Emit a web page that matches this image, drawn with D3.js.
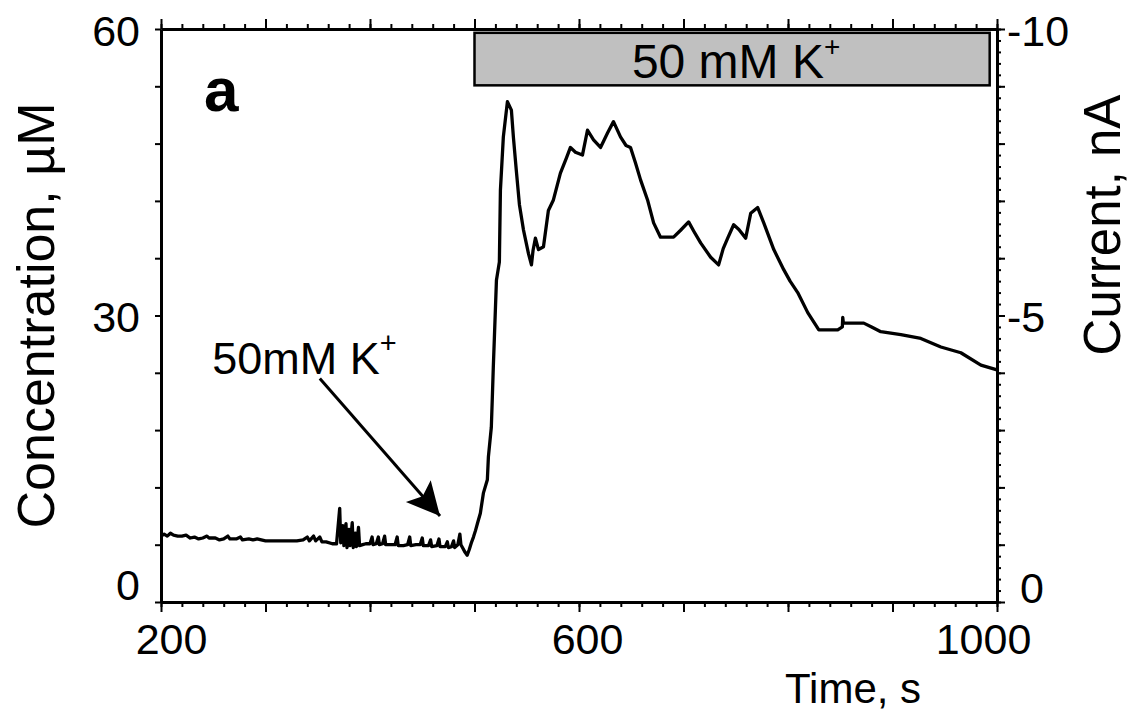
<!DOCTYPE html>
<html>
<head>
<meta charset="utf-8">
<script src="https://cdn.jsdelivr.net/npm/d3@7"></script>
<style>
  html, body { margin: 0; padding: 0; background: #fff; }
  svg { display: block; font-family: "Liberation Sans", Arial, Helvetica, sans-serif; }
</style>
</head>
<body>
<svg id="chart" width="1130" height="715"></svg>
<script>
// ---- Axis definitions ----
const timeDomain = [200, 1000];
const timeMinorTicks = d3.range(200, 1001, 20);
const timeMajorTicks = d3.range(200, 1001, 100);
const timeTickLabels = [200, 600, 1000];

const concDomain = [0, 60];
const concTicks = d3.range(0, 61, 6);
const concTickLabels = [0, 30, 60];

const currentDomain = [0, -10];
const currentMinorTicks = d3.range(0, 51).map(i => -i / 5);
const currentMajorTicks = d3.range(0, 11).map(i => -i);
const currentTickLabels = [-10, -5, 0];

// ---- Recorded trace: time (s) and concentration (µM) ----
const traceTime = [
  200, 203, 206, 209, 212, 216, 220, 224, 228, 232, 236, 240, 244, 246, 252, 256, 260, 264, 266, 272,
  276, 278, 284, 288, 292, 296, 300, 306, 312, 318, 324, 330, 336, 340, 342, 346, 348, 352, 354, 358,
  364, 368, 371, 372, 374, 375, 377, 378, 380, 381, 383, 384, 386, 387, 389, 390, 393, 396, 400, 402,
  403, 406, 408, 409, 412, 414, 415, 420, 424, 426, 427, 432, 436, 438, 439, 444, 448, 450, 451, 456,
  458, 459, 464, 466, 467, 472, 474, 475, 478, 480, 481, 484, 486, 487, 489, 491, 493, 495, 497, 499,
  501, 503, 505.6, 508.5, 512.3, 513.3, 516.1, 517, 518, 519, 521, 523.8, 524.8, 527.6, 531.5, 535.3, 537.2, 540, 543, 546.8,
  551.6, 554.5, 556, 558.3, 561.2, 566, 570.7, 575.5, 582.2, 588, 591.8, 596.6, 603.3, 608.1, 613.9, 620.6, 627.3, 633, 639.7, 645,
  649.3, 654, 658.9, 665.6, 671.4, 678, 690.5, 697, 704.9, 710, 716.4, 726, 733.6, 738, 742.3, 748, 753, 759.5, 764.3, 771,
  776.8, 786.4, 795.9, 802, 809.3, 818.9, 829.5, 847.6, 852, 852.4, 853, 872.5, 880, 888.8, 908, 927.1, 946.3, 965.4, 984.6, 1000
];
const traceConc = [
  6.9, 7.1, 6.9, 7.2, 7.0, 6.9, 6.9, 7.0, 6.7, 6.8, 6.6, 6.7, 6.9, 6.7, 6.7, 6.5, 6.6, 6.9, 6.6, 6.6,
  6.8, 6.5, 6.6, 6.5, 6.6, 6.5, 6.4, 6.4, 6.4, 6.4, 6.4, 6.4, 6.5, 6.8, 6.4, 6.9, 6.4, 6.8, 6.3, 6.3,
  6.1, 6.1, 9.8, 6.2, 8.0, 5.9, 8.2, 5.7, 7.6, 5.9, 8.3, 5.7, 7.2, 5.8, 7.8, 5.9, 6.0, 6.1, 6.1, 6.8,
  6.0, 6.1, 6.8, 6.0, 6.1, 6.9, 6.0, 6.0, 6.0, 6.8, 5.9, 5.9, 6.0, 6.8, 5.9, 6.0, 6.0, 6.7, 5.9, 5.9,
  6.5, 5.8, 5.9, 6.6, 5.8, 5.8, 6.3, 5.7, 5.8, 6.4, 5.7, 6.0, 7.1, 6.0, 5.6, 5.2, 4.9, 5.5, 6.2, 6.8,
  7.5, 8.3, 9.3, 11.4, 12.8, 15.2, 18.3, 21.2, 24.6, 27.6, 33.7, 35.6, 43.1, 48.7, 52.4, 51.5, 48.7, 45.2, 41.6, 39.0,
  36.5, 35.3, 36.8, 38.1, 36.9, 37.2, 41.0, 42.1, 44.9, 46.5, 47.6, 47.1, 46.8, 49.4, 48.4, 47.6, 49.1, 50.3, 48.7, 47.8,
  47.6, 46.0, 44.2, 42.1, 39.7, 38.2, 38.2, 38.9, 39.8, 38.8, 37.6, 36.1, 35.3, 37.0, 38.1, 39.5, 39.0, 38.1, 40.7, 41.3,
  39.7, 36.9, 34.8, 33.6, 32.4, 30.3, 28.5, 28.5, 28.8, 29.8, 29.2, 29.2, 28.8, 28.3, 28.0, 27.6, 26.7, 26.1, 24.8, 24.3
];

// ---- Stimulus period (s) and the band it occupies (µM) ----
const stimWindow = [500, 993];
const stimBand = [54.1, 59.6];
const stimLabel = "50 mM K";

// ---- Application marker: label and arrow (s, µM) ----
const markerLabel = "50mM K";
const markerLabelAt = [249, 23.9];
const markerArrow = [[352, 23.4], [467, 9.0]];

const panelLetter = "a";

// ---- Layout ----
const svg = d3.select("#chart");
const plot = { left: 161, right: 997, top: 29, bottom: 602 };

const x = d3.scaleLinear().domain(timeDomain).range([plot.left, plot.right]);
const y = d3.scaleLinear().domain(concDomain).range([plot.bottom, plot.top]);
const yR = d3.scaleLinear().domain(currentDomain).range([plot.bottom, plot.top]);

const points = traceTime.map((t, i) => [t, traceConc[i]]);

// ---- Trace ----
svg.append("path")
  .datum(points)
  .attr("fill", "none")
  .attr("stroke", "#000")
  .attr("stroke-width", 3.3)
  .attr("stroke-linejoin", "round")
  .attr("d", d3.line().x(d => x(d[0])).y(d => y(d[1])));

// ---- Stimulus bar ----
svg.append("rect")
  .attr("x", x(stimWindow[0]))
  .attr("y", y(stimBand[1]))
  .attr("width", x(stimWindow[1]) - x(stimWindow[0]))
  .attr("height", y(stimBand[0]) - y(stimBand[1]))
  .attr("fill", "#c0c0c0")
  .attr("stroke", "#000")
  .attr("stroke-width", 2.5);

const stimText = svg.append("text")
  .attr("x", (x(stimWindow[0]) + x(stimWindow[1])) / 2 + 4)
  .attr("y", y(stimBand[0]) - 7)
  .attr("text-anchor", "middle")
  .attr("font-size", 48)
  .attr("fill", "#000");
stimText.append("tspan").text(stimLabel);
stimText.append("tspan").attr("font-size", 28).attr("dy", -22).text("+");

// ---- Marker annotation ----
const markerText = svg.append("text")
  .attr("x", x(markerLabelAt[0]))
  .attr("y", y(markerLabelAt[1]))
  .attr("font-size", 45)
  .attr("fill", "#000");
markerText.append("tspan").text(markerLabel);
markerText.append("tspan").attr("font-size", 29).attr("dy", -21).text("+");

svg.append("defs").append("marker")
  .attr("id", "arrowhead")
  .attr("viewBox", "0 0 10 10")
  .attr("refX", 10).attr("refY", 5)
  .attr("markerWidth", 12).attr("markerHeight", 11)
  .attr("markerUnits", "strokeWidth")
  .attr("orient", "auto")
  .append("path")
  .attr("d", "M0,0 L10,5 L0,10 L2,5 Z")
  .attr("fill", "#000");

svg.append("line")
  .attr("x1", x(markerArrow[0][0])).attr("y1", y(markerArrow[0][1]))
  .attr("x2", x(markerArrow[1][0])).attr("y2", y(markerArrow[1][1]))
  .attr("stroke", "#000")
  .attr("stroke-width", 3)
  .attr("marker-end", "url(#arrowhead)");

// ---- Panel letter ----
svg.append("text")
  .attr("x", 204)
  .attr("y", 111)
  .attr("font-size", 62)
  .attr("font-weight", "bold")
  .attr("fill", "#000")
  .text(panelLetter);

// ---- Axes ----
function styleAxis(g) {
  g.select(".domain").attr("stroke-width", 3);
  g.selectAll(".tick line").attr("stroke-width", 2);
  g.selectAll(".tick text").attr("fill", "#000").attr("font-family", null);
  g.attr("font-size", 43).attr("font-family", null);
}

// bottom
svg.append("g")
  .attr("transform", `translate(0,${plot.bottom})`)
  .call(d3.axisBottom(x).tickValues(timeMinorTicks).tickSize(5).tickSizeOuter(0).tickFormat(""))
  .call(styleAxis);
const bottomMajor = svg.append("g")
  .attr("transform", `translate(0,${plot.bottom})`)
  .call(d3.axisBottom(x).tickValues(timeMajorTicks).tickSize(10).tickSizeOuter(0).tickPadding(11)
    .tickFormat(d => timeTickLabels.includes(d) ? String(d) : ""))
  .call(styleAxis);
const bottomShift = { 200: 10, 600: 8, 1000: -14 };
bottomMajor.selectAll(".tick text").attr("dx", d => bottomShift[d] || 0);

// top
svg.append("g")
  .attr("transform", `translate(0,${plot.top})`)
  .call(d3.axisTop(x).tickValues(timeMinorTicks).tickSize(5).tickSizeOuter(0).tickFormat(""))
  .call(styleAxis);
svg.append("g")
  .attr("transform", `translate(0,${plot.top})`)
  .call(d3.axisTop(x).tickValues(timeMajorTicks).tickSize(10).tickSizeOuter(0).tickFormat(""))
  .call(styleAxis);

// left
const leftAxis = svg.append("g")
  .attr("transform", `translate(${plot.left},0)`)
  .call(d3.axisLeft(y).tickValues(concTicks).tickSize(6).tickSizeOuter(0).tickPadding(15)
    .tickFormat(d => concTickLabels.includes(d) ? String(d) : ""))
  .call(styleAxis);
leftAxis.selectAll(".tick text")
  .attr("dy", d => d === 0 ? "-0.05em" : "0.38em");

// right
svg.append("g")
  .attr("transform", `translate(${plot.right},0)`)
  .call(d3.axisRight(yR).tickValues(currentMinorTicks).tickSize(4).tickSizeOuter(0).tickFormat(""))
  .call(styleAxis);
const rightAxis = svg.append("g")
  .attr("transform", `translate(${plot.right},0)`)
  .call(d3.axisRight(yR).tickValues(currentMajorTicks).tickSize(8).tickSizeOuter(0).tickPadding(2)
    .tickFormat(d => currentTickLabels.includes(d) ? String(d) : ""))
  .call(styleAxis);
rightAxis.selectAll(".tick text")
  .attr("dx", d => d === 0 ? 13 : 0)
  .attr("dy", d => d === 0 ? "0.0em" : "0.38em");

// ---- Axis titles ----
svg.append("text")
  .attr("transform", `translate(54,${(plot.top + plot.bottom) / 2}) rotate(-90)`)
  .attr("text-anchor", "middle")
  .attr("font-size", 52)
  .attr("fill", "#000")
  .text("Concentration, µM");

svg.append("text")
  .attr("transform", `translate(1120,225) rotate(-90)`)
  .attr("text-anchor", "middle")
  .attr("font-size", 51)
  .attr("fill", "#000")
  .text("Current, nA");

svg.append("text")
  .attr("x", 785)
  .attr("y", 703)
  .attr("font-size", 42)
  .attr("fill", "#000")
  .text("Time, s");
</script>
</body>
</html>
